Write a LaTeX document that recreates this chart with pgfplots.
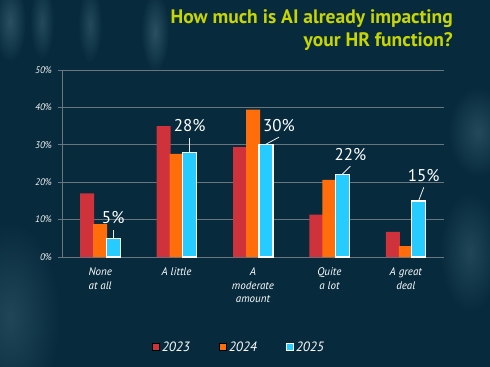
\documentclass[border=0pt]{standalone}
\usepackage{pgfplots}
\usepackage{pgfplotstable}
\pgfplotsset{compat=1.18}
\usepackage{fontspec}
\setmainfont{PT Sans}
\definecolor{bg}{RGB}{7,43,61}
\definecolor{glow}{RGB}{70,110,125}
\definecolor{ttl}{RGB}{200,214,0}
\definecolor{c23}{RGB}{208,50,60}
\definecolor{c24}{RGB}{255,110,10}
\definecolor{c25}{RGB}{38,204,255}
\definecolor{gridc}{RGB}{105,118,126}
% dx, dy: offset of each label (bp) from the top of its bar
\pgfplotstableread{
x y dx dy
0 5 0 8
1 28 0 14
2 30 13 7
3 22 8 8
4 15 5 13
}\tabA
\begin{document}
\begin{tikzpicture}
\fill[bg] (0,0) rectangle (490bp,367bp);
\begin{scope}
\clip (0,0) rectangle (490bp,367bp);
\shade[inner color=glow!55!bg, outer color=bg] (10bp,345bp) ellipse (16bp and 40bp);
\shade[inner color=glow!45!bg, outer color=bg] (42bp,345bp) ellipse (12bp and 38bp);
\shade[inner color=glow!45!bg, outer color=bg] (90bp,342bp) ellipse (12bp and 38bp);
\shade[inner color=glow!55!bg, outer color=bg] (155bp,335bp) ellipse (14bp and 40bp);
\shade[inner color=glow!40!bg, outer color=bg] (10bp,50bp) ellipse (50bp and 95bp);
\shade[inner color=glow!45!bg, outer color=bg] (478bp,235bp) ellipse (30bp and 45bp);
\shade[inner color=glow!40!bg, outer color=bg] (470bp,115bp) ellipse (30bp and 60bp);
\end{scope}
\begin{axis}[
  at={(62bp,110bp)}, anchor=south west,
  scale only axis, width=382bp, height=187bp,
  xmin=-0.5, xmax=4.5, ymin=0, ymax=50,
  axis x line*=bottom, axis y line*=left,
  axis line style={gridc, line width=0.8bp},
  ymajorgrids, grid style={gridc, line width=0.8bp},
  ytick={0,10,...,50},
  yticklabel={\pgfmathprintnumber{\tick}\%},
  yticklabel style={font=\itshape\fontsize{9.5bp}{10bp}\selectfont, text=white!90!gray, xshift=-3bp},
  ytick style={gridc, line width=0.8bp},
  tick align=outside, major tick length=3.5bp,
  /pgf/number format/assume math mode=true,
  xtick={0,1,2,3,4},
  xticklabels={None\\at all, A little, A\\moderate\\amount, Quite\\a lot, A great\\deal},
  xticklabel style={align=center, font=\itshape\fontsize{11bp}{13.8bp}\selectfont, text=white, yshift=-3.5bp, anchor=north},
  x tick style={draw=none},
  extra x ticks={-0.5,0.5,1.5,2.5,3.5,4.5},
  extra x tick labels={},
  extra x tick style={grid=none, tick style={draw=gridc, line width=0.8bp}},
  bar width=14bp,
  legend columns=3,
  legend style={at={(0.463,-0.481)}, anchor=center, draw=none, fill=none,
    text=white, font=\itshape\fontsize{13.5bp}{14bp}\selectfont,
    /tikz/every even column/.append style={column sep=27bp}},
  legend image code/.code={\draw[#1, line width=1bp] (0bp,-3.5bp) rectangle (7bp,3.5bp);},
  clip=false,
]
\addplot[ybar, bar shift=-13bp, fill=c23, draw=none] coordinates {(0,17) (1,35) (2,29.4) (3,11.3) (4,6.7)};
\addplot[ybar, bar shift=0bp, fill=c24, draw=none] coordinates {(0,8.8) (1,27.6) (2,39.4) (3,20.6) (4,2.9)};
\addplot[ybar, bar shift=13bp, fill=c25, draw=white, line width=1.3bp,
  visualization depends on={\thisrow{dx}\as\ldx},
  visualization depends on={\thisrow{dy}\as\ldy},
  nodes near coords={\pgfmathprintnumber{\pgfplotspointmeta}\%},
  every node near coord/.append style={anchor=base, text=white, inner sep=0pt,
    xshift=13bp+\ldx bp, yshift=\ldy bp+6.6bp,
    font=\fontsize{17bp}{17bp}\selectfont, /pgf/number format/assume math mode=true}]
  table[x=x, y=y] {\tabA};
\legend{2023,2024,2025}
% leader lines from each 2025 bar top to its label
\addplot[forget plot, draw=white!85!gray, line width=0.8bp,
  quiver={u=\thisrow{dx}/76.4, v=\thisrow{dy}/3.74}]
  table[x expr=\thisrow{x}+0.1702, y expr=\thisrow{y}+0.17] {\tabA};
\end{axis}
\node[anchor=base east, text=ttl, font=\bfseries\fontsize{19.5bp}{23bp}\selectfont, inner sep=0pt] at (453bp,343bp) {How much is AI already impacting};
\node[anchor=base east, text=ttl, font=\bfseries\fontsize{19.5bp}{23bp}\selectfont, inner sep=0pt] at (453bp,320bp) {your HR function?};
\pgfresetboundingbox
\useasboundingbox (0,0) rectangle (490bp,367bp);
\end{tikzpicture}
\end{document}
